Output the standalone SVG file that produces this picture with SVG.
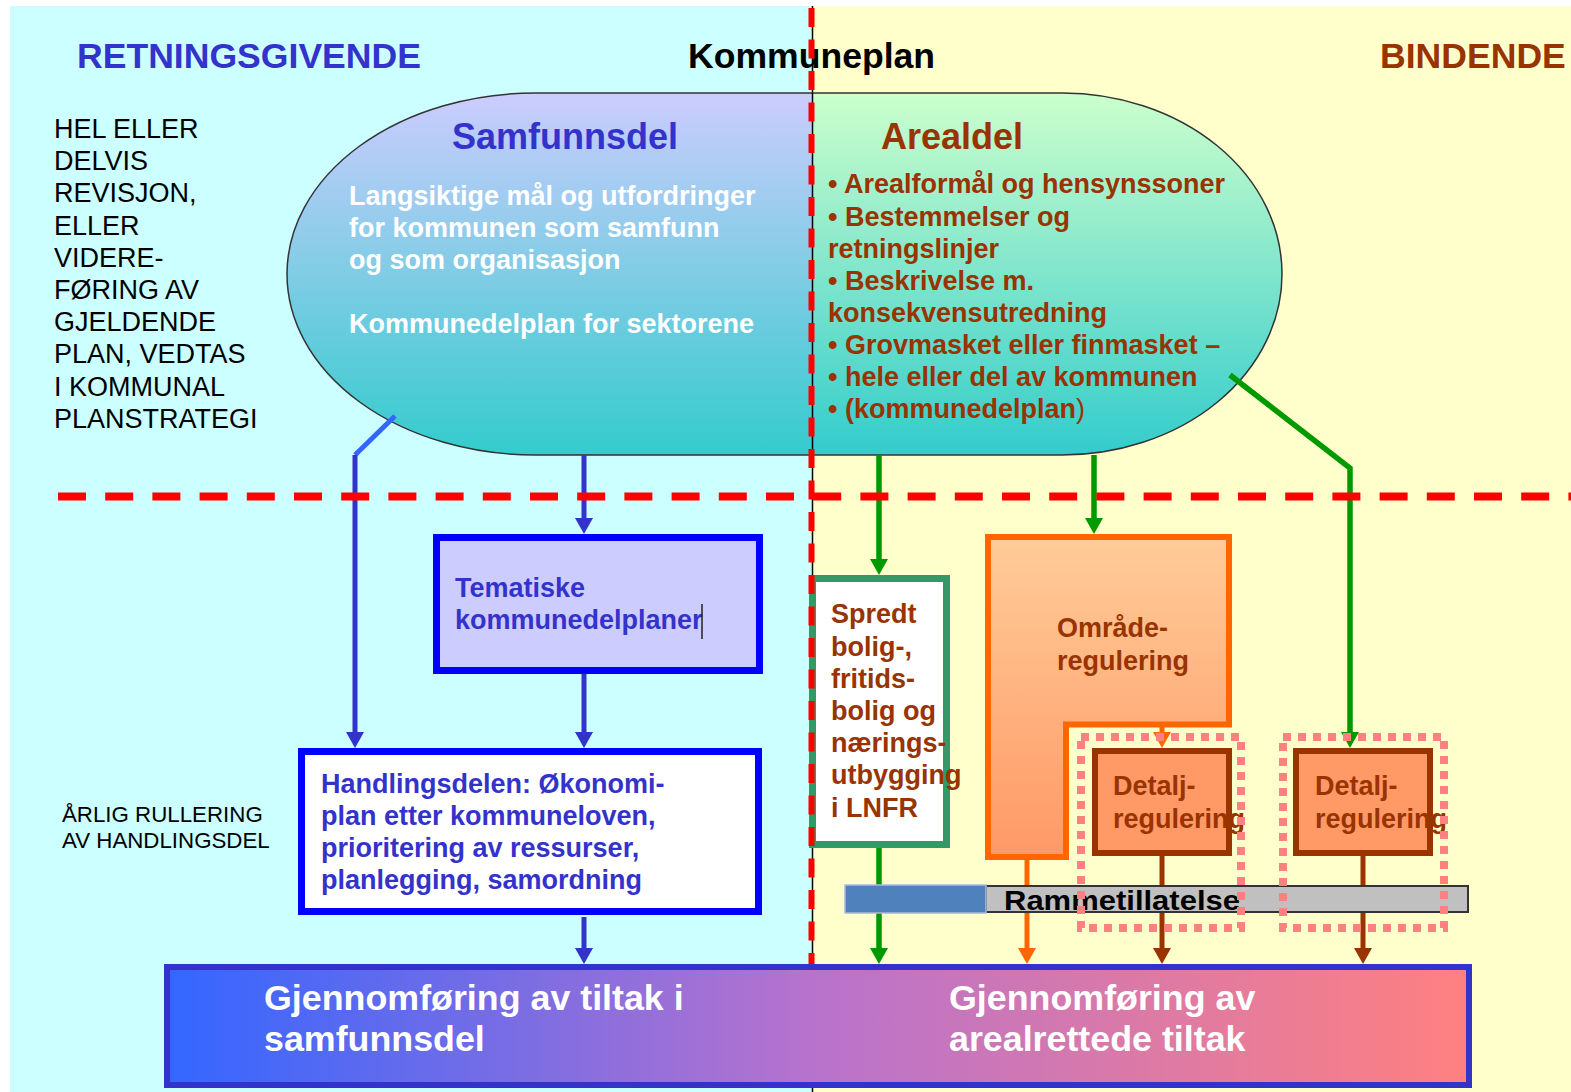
<svg xmlns="http://www.w3.org/2000/svg" width="1571" height="1092" viewBox="0 0 1571 1092">
<style>
text{font-family:"Liberation Sans",Arial,sans-serif}
.b{font-weight:bold}
.ttl{font-size:35.6px;font-weight:bold}
.body{font-size:27px;font-weight:bold}
.blue{fill:#3333cc}
.brown{fill:#993300}
.white{fill:#ffffff}
.con{fill:none}
.cb{stroke:#3333cc;stroke-width:5}
.cg{stroke:#009900;stroke-width:5.5}
.co{stroke:#ff6600;stroke-width:5}
.cr{stroke:#993300;stroke-width:5}
.dot{fill:none;stroke:#ff8080;stroke-width:8;stroke-dasharray:8 7}
</style>
<defs>
<linearGradient id="gL" x1="0" y1="0" x2="0" y2="1"><stop offset="0" stop-color="#ccccff"/><stop offset="1" stop-color="#33cccc"/></linearGradient>
<linearGradient id="gR" x1="0" y1="0" x2="0" y2="1"><stop offset="0" stop-color="#ccffcc"/><stop offset="1" stop-color="#33cccc"/></linearGradient>
<linearGradient id="gO" x1="0" y1="0" x2="0" y2="1"><stop offset="0" stop-color="#ffcc99"/><stop offset="1" stop-color="#ff9966"/></linearGradient>
<linearGradient id="gB" x1="0" y1="0" x2="1" y2="0"><stop offset="0" stop-color="#3366ff"/><stop offset="0.5" stop-color="#b873cc"/><stop offset="1" stop-color="#ff8080"/></linearGradient>
<clipPath id="cL"><rect x="0" y="0" width="812" height="1092"/></clipPath>
<clipPath id="cR"><rect x="812" y="0" width="759" height="1092"/></clipPath>
<marker id="aB" viewBox="0 0 16 18" refX="10" refY="9" markerWidth="16" markerHeight="18" markerUnits="userSpaceOnUse" orient="auto"><path d="M0,0 L16,9 L0,18 Z" fill="#3333cc"/></marker>
<marker id="aG" viewBox="0 0 16 18" refX="10" refY="9" markerWidth="16" markerHeight="18" markerUnits="userSpaceOnUse" orient="auto"><path d="M0,0 L16,9 L0,18 Z" fill="#009900"/></marker>
<marker id="aO" viewBox="0 0 16 18" refX="10" refY="9" markerWidth="16" markerHeight="18" markerUnits="userSpaceOnUse" orient="auto"><path d="M0,0 L16,9 L0,18 Z" fill="#ff6600"/></marker>
<marker id="aR" viewBox="0 0 16 18" refX="10" refY="9" markerWidth="16" markerHeight="18" markerUnits="userSpaceOnUse" orient="auto"><path d="M0,0 L16,9 L0,18 Z" fill="#993300"/></marker>
</defs>

<!-- backgrounds -->
<rect x="0" y="0" width="1571" height="1092" fill="#ffffff"/>
<rect x="10" y="6" width="802" height="1086" fill="#ccffff"/>
<rect x="812" y="6" width="759" height="1086" fill="#ffffcc"/>
<line x1="812.5" y1="6" x2="812.5" y2="1092" stroke="#000" stroke-width="1.5"/>

<!-- headings -->
<g id="heading-retningsgivende"><text x="77" y="68" class="ttl blue">RETNINGSGIVENDE</text></g>
<g id="heading-kommuneplan"><text x="688" y="68" class="ttl" fill="#000">Kommuneplan</text></g>
<g id="heading-bindende"><text x="1380" y="68" class="ttl brown">BINDENDE</text></g>

<g id="note-revisjon">
<text x="54" y="138" font-size="27" fill="#000">HEL ELLER</text>
<text x="54" y="170.2" font-size="27" fill="#000">DELVIS</text>
<text x="54" y="202.4" font-size="27" fill="#000">REVISJON,</text>
<text x="54" y="234.6" font-size="27" fill="#000">ELLER</text>
<text x="54" y="266.8" font-size="27" fill="#000">VIDERE-</text>
<text x="54" y="299" font-size="27" fill="#000">FØRING AV</text>
<text x="54" y="331.2" font-size="27" fill="#000">GJELDENDE</text>
<text x="54" y="363.4" font-size="27" fill="#000">PLAN, VEDTAS</text>
<text x="54" y="395.6" font-size="27" fill="#000">I KOMMUNAL</text>
<text x="54" y="427.8" font-size="27" fill="#000">PLANSTRATEGI</text>
</g>

<g id="note-arlig">
<text x="62" y="822" font-size="22.3" fill="#000">ÅRLIG RULLERING</text>
<text x="62" y="848" font-size="22.3" fill="#000">AV HANDLINGSDEL</text>
</g>

<!-- kommuneplan ellipse -->
<g id="kommuneplan">
<path d="M535 93 H1062 A220 181 0 0 1 1062 455 H535 A248 181 0 0 1 535 93 Z" fill="url(#gL)" clip-path="url(#cL)"/>
<path d="M535 93 H1062 A220 181 0 0 1 1062 455 H535 A248 181 0 0 1 535 93 Z" fill="url(#gR)" clip-path="url(#cR)"/>
<path d="M535 93 H1062 A220 181 0 0 1 1062 455 H535 A248 181 0 0 1 535 93 Z" fill="none" stroke="#333" stroke-width="1.5"/>
<line x1="812.5" y1="93" x2="812.5" y2="455" stroke="#000" stroke-width="1.5"/>
</g>
<g id="samfunnsdel">
<text x="452" y="149" font-size="36" class="b blue">Samfunnsdel</text>
<text x="349" y="205" class="body white">Langsiktige mål og utfordringer</text>
<text x="349" y="237" class="body white">for kommunen som samfunn</text>
<text x="349" y="269" class="body white">og som organisasjon</text>
<text x="349" y="333" class="body white">Kommunedelplan for sektorene</text>
</g>
<g id="arealdel">
<text x="881" y="149" font-size="36" class="b brown">Arealdel</text>
<text x="828" y="193" class="body brown">• Arealformål og hensynssoner</text>
<text x="828" y="226" class="body brown">• Bestemmelser og</text>
<text x="828" y="258" class="body brown">retningslinjer</text>
<text x="828" y="290" class="body brown">• Beskrivelse m.</text>
<text x="828" y="322" class="body brown">konsekvensutredning</text>
<text x="828" y="354" class="body brown">• Grovmasket eller finmasket –</text>
<text x="828" y="386" class="body brown">• hele eller del av kommunen</text>
<text x="828" y="418" class="body brown">• (kommunedelplan<tspan font-weight="normal">)</tspan></text>
</g>

<!-- connectors -->
<g id="connectors" class="con">
<path d="M395 416 L355 455" stroke="#3366ff" stroke-width="5" fill="none"/>
<path d="M355 455 V742" class="cb" fill="none" marker-end="url(#aB)"/>
<path d="M584 455 V528" class="cb" fill="none" marker-end="url(#aB)"/>
<path d="M584 674 V742" class="cb" fill="none" marker-end="url(#aB)"/>
<path d="M584 917 V958" class="cb" fill="none" marker-end="url(#aB)"/>
<path d="M879 455 V569" class="cg" fill="none" marker-end="url(#aG)"/>
<path d="M1094 455 V528" class="cg" fill="none" marker-end="url(#aG)"/>
<path d="M1230 375 L1350 468 V742" class="cg" fill="none" marker-end="url(#aG)"/>
<path d="M879 848 V958" class="cg" fill="none" marker-end="url(#aG)"/>
<path d="M1162 727 V742" class="co" fill="none" marker-end="url(#aO)"/>
<path d="M1027 860 V958" class="co" fill="none" marker-end="url(#aO)"/>
<path d="M1162 856 V958" class="cr" fill="none" marker-end="url(#aR)"/>
<path d="M1363 847 V958" class="cr" fill="none" marker-end="url(#aR)"/>
</g>

<!-- nodes -->
<g id="tematiske">
<rect x="436.5" y="537.5" width="323" height="133" fill="#ccccff" stroke="#0000ff" stroke-width="7"/>
<text x="455" y="597" class="body blue">Tematiske</text>
<text x="455" y="629" class="body blue">kommunedelplaner</text>
<line x1="702" y1="604" x2="702" y2="639" stroke="#222" stroke-width="1.5"/>
</g>

<g id="handlingsdelen">
<rect x="301.5" y="751.5" width="457" height="160" fill="#ffffff" stroke="#0000ff" stroke-width="7"/>
<text x="321" y="793" class="body blue">Handlingsdelen: Økonomi-</text>
<text x="321" y="825" class="body blue">plan etter kommuneloven,</text>
<text x="321" y="857" class="body blue">prioritering av ressurser,</text>
<text x="321" y="889" class="body blue">planlegging, samordning</text>
</g>

<g id="spredt">
<rect x="812.5" y="578.5" width="134" height="266" fill="#ffffff" stroke="#339966" stroke-width="7"/>
<text x="831" y="623" class="body brown">Spredt</text>
<text x="831" y="655.5" class="body brown">bolig-,</text>
<text x="831" y="688" class="body brown">fritids-</text>
<text x="831" y="720" class="body brown">bolig og</text>
<text x="831" y="752" class="body brown">nærings-</text>
<text x="831" y="784" class="body brown">utbygging</text>
<text x="831" y="816.5" class="body brown">i LNFR</text>
</g>

<g id="omraderegulering">
<path d="M988 537 H1229 V724.5 H1066 V857 H988 Z" fill="url(#gO)" stroke="#ff6600" stroke-width="6" stroke-linejoin="miter"/>
<text x="1057" y="637" class="body brown">Område-</text>
<text x="1057" y="670" class="body brown">regulering</text>
</g>

<g id="detalj1">
<rect x="1095" y="751" width="134" height="102" fill="#ff9966" stroke="#993300" stroke-width="6"/>
<text x="1113" y="795" class="body brown">Detalj-</text>
<text x="1113" y="828" class="body brown">regulering</text>
</g>

<g id="detalj2">
<rect x="1296" y="751" width="134" height="102" fill="#ff9966" stroke="#993300" stroke-width="6"/>
<text x="1315" y="795" class="body brown">Detalj-</text>
<text x="1315" y="828" class="body brown">regulering</text>
</g>

<g id="rammetillatelse">
<rect x="986" y="886" width="482" height="26" fill="#c0c0c0" stroke="#333" stroke-width="2"/>
<rect x="845" y="885" width="141" height="28" fill="#4f81bd" stroke="#a9bcd4" stroke-width="1.5"/>
<text x="1004" y="910" font-size="28" class="b" fill="#000" textLength="236" lengthAdjust="spacingAndGlyphs">Rammetillatelse</text>
</g>

<g id="frame-detalj1"><rect x="1081" y="737" width="160" height="191" class="dot"/></g>
<g id="frame-detalj2"><rect x="1283" y="737" width="161" height="191" class="dot"/></g>

<!-- red dashed boundaries -->
<g id="boundaries">
<line x1="58" y1="496.5" x2="1571" y2="496.5" stroke="#ff0000" stroke-width="8" stroke-dasharray="28 19.2"/>
<line x1="811.5" y1="8" x2="811.5" y2="967" stroke="#ff0000" stroke-width="6" stroke-dasharray="19 12.5"/>
</g>

<g id="gjennomforing">
<rect x="167" y="967" width="1302" height="118" fill="url(#gB)" stroke="#3333cc" stroke-width="6"/>
<text x="264" y="1010" font-size="35.8" class="b white">Gjennomføring av tiltak i</text>
<text x="264" y="1051" font-size="35.8" class="b white">samfunnsdel</text>
<text x="949" y="1010" font-size="35.8" class="b white">Gjennomføring av</text>
<text x="949" y="1051" font-size="35.8" class="b white">arealrettede tiltak</text>
</g>
</svg>
